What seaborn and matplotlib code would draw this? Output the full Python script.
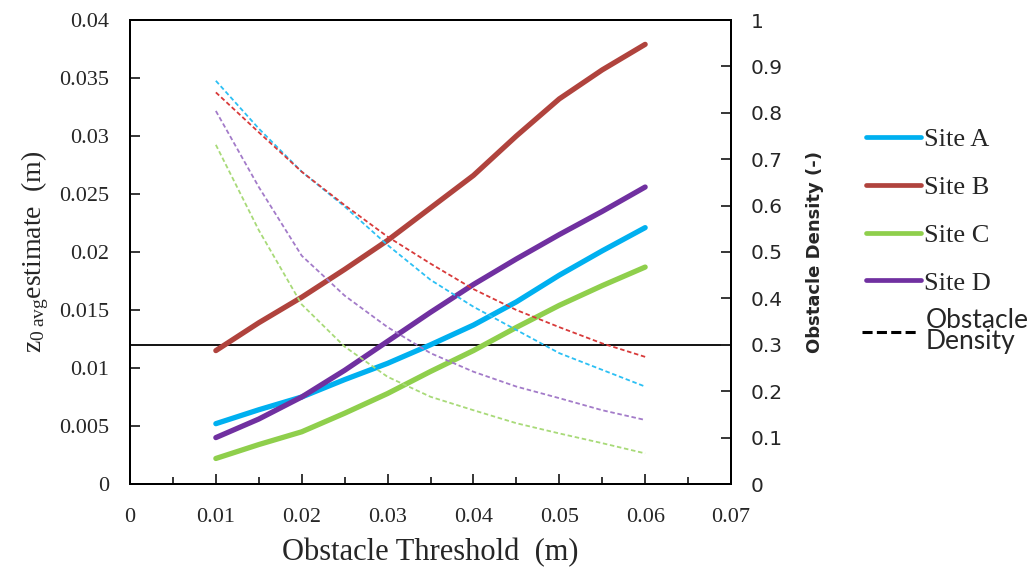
import matplotlib
matplotlib.use("Agg")
import matplotlib.pyplot as plt
import matplotlib.ticker as mticker
from matplotlib.lines import Line2D
import seaborn as sns

# obstacle threshold (m)
thresholds = [0.01, 0.015, 0.02, 0.025, 0.03, 0.035, 0.04, 0.045, 0.05, 0.055, 0.06]

# z0 avg estimate (m) - left axis, solid lines
z0_site_a = [0.0052, 0.0064, 0.0075, 0.0090, 0.0104, 0.0120, 0.0137, 0.0157, 0.0180, 0.0201, 0.0221]
z0_site_b = [0.0115, 0.0139, 0.0161, 0.0185, 0.0210, 0.0238, 0.0266, 0.0300, 0.0332, 0.0357, 0.0379]
z0_site_c = [0.0022, 0.0034, 0.0045, 0.0061, 0.0078, 0.0097, 0.0115, 0.0135, 0.0154, 0.0171, 0.0187]
z0_site_d = [0.0040, 0.0056, 0.0075, 0.0098, 0.0123, 0.0148, 0.0172, 0.0194, 0.0215, 0.0235, 0.0256]

# obstacle density (-) - right axis, dashed lines
dens_site_a = [0.869, 0.766, 0.673, 0.598, 0.515, 0.440, 0.382, 0.332, 0.282, 0.246, 0.210]
dens_site_b = [0.844, 0.758, 0.673, 0.601, 0.533, 0.475, 0.420, 0.375, 0.338, 0.303, 0.274]
dens_site_c = [0.731, 0.547, 0.387, 0.296, 0.231, 0.188, 0.159, 0.131, 0.109, 0.088, 0.066]
dens_site_d = [0.804, 0.640, 0.492, 0.406, 0.338, 0.282, 0.242, 0.210, 0.185, 0.159, 0.138]

sites = ["Site A", "Site B", "Site C", "Site D"]
solid_colors = ["#00b0f0", "#b0433d", "#8fcf4c", "#7030a0"]
dash_colors = ["#2cc0f4", "#d83a3a", "#a8da78", "#a37bc9"]

sns.set_style("ticks")
plt.rcParams["font.family"] = ["Liberation Serif", "DejaVu Serif"]
plt.rcParams["mathtext.fontset"] = "custom"
plt.rcParams["mathtext.rm"] = "Liberation Serif"
plt.rcParams["mathtext.it"] = "Liberation Serif:italic"

W, H = 1036, 574
fig = plt.figure(figsize=(W / 100, H / 100), dpi=100)
ax = fig.add_axes([130 / W, 1 - 484 / H, 601 / W, 464 / H])
ax2 = ax.twinx()

z0_all = [z0_site_a, z0_site_b, z0_site_c, z0_site_d]
dens_all = [dens_site_a, dens_site_b, dens_site_c, dens_site_d]

for z0, dens, c, dc in zip(z0_all, dens_all, solid_colors, dash_colors):
    sns.lineplot(x=thresholds, y=z0, ax=ax, color=c, lw=3.8,
                 solid_capstyle="round", legend=False)
    sns.lineplot(x=thresholds, y=dens, ax=ax2, color=dc, lw=1.3,
                 linestyle=(0, (2.5, 1.5)), legend=False)

ax.axhline(0.012, color="black", lw=1.3, zorder=1)

ax.set_xlim(0, 0.07)
ax.set_ylim(0, 0.04)
ax2.set_ylim(0, 1)

fmt = mticker.FuncFormatter(lambda v, p: "%g" % round(v, 4))
ax.xaxis.set_major_locator(mticker.MultipleLocator(0.01))
ax.xaxis.set_minor_locator(mticker.MultipleLocator(0.005))
ax.yaxis.set_major_locator(mticker.MultipleLocator(0.005))
ax2.yaxis.set_major_locator(mticker.MultipleLocator(0.1))
ax.xaxis.set_major_formatter(fmt)
ax.yaxis.set_major_formatter(fmt)
ax2.yaxis.set_major_formatter(fmt)

ax.tick_params(axis="x", which="major", direction="in", length=7, width=1.3,
               pad=17, labelsize=16)
ax.tick_params(axis="x", which="minor", direction="in", length=5, width=1.3)
ax.tick_params(axis="y", direction="in", length=7, width=1.3, pad=15,
               labelsize=16, right=False)
ax2.tick_params(axis="y", direction="in", length=7, width=1.3, pad=14,
                labelsize=14.5)
for t in ax2.get_yticklabels():
    t.set_fontfamily("DejaVu Sans")

for a in (ax, ax2):
    for s in a.spines.values():
        s.set_color("black")
        s.set_linewidth(1.4)

ax.set_xlabel("Obstacle Threshold  (m)", fontsize=22, labelpad=8)
ax.set_ylabel(r"$\mathrm{z}_{0\;\mathrm{avg}}$estimate  (m)", fontsize=20, labelpad=6)
ax2.set_ylabel("Obstacle Density (-)", fontsize=13, fontweight="bold",
               fontfamily="DejaVu Sans")
ax2.yaxis.set_label_coords((806 - 130) / 601, 0.5)

# legend: sites
handles = [Line2D([], [], color=c, lw=3.4, solid_capstyle="round") for c in solid_colors]
leg1 = fig.legend(handles, sites, loc="upper left",
                  bbox_to_anchor=(866 / W, 1 - 128 / H), frameon=False,
                  fontsize=19, handlelength=2.1, handletextpad=0.08,
                  labelspacing=0.92, borderpad=0, borderaxespad=0)

# legend: obstacle density
dash_handle = Line2D([], [], color="black", lw=2.2, linestyle=(0, (3.3, 1.4)))
leg2 = fig.legend([dash_handle], ["Obstacle\nDensity"], loc="center left",
                  bbox_to_anchor=(862 / W, 1 - 331 / H), frameon=False,
                  fontsize=19, handlelength=2.05, handletextpad=0.35,
                  borderpad=0, borderaxespad=0)
leg2.get_texts()[0].set_fontfamily("Lato")
leg2.get_texts()[0].set_linespacing(0.8)

fig.savefig("out.png", dpi=100)
